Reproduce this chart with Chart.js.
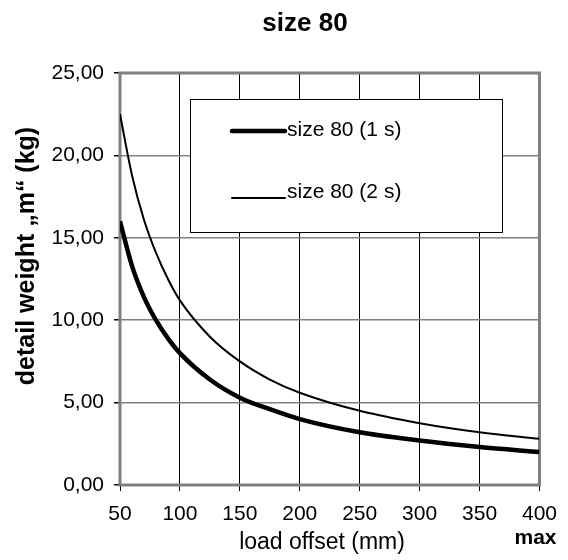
<!DOCTYPE html>
<html lang="en">
<head>
	<meta charset="UTF-8">
	<title>size 80</title>
	<script src="https://cdn.jsdelivr.net/npm/chart.js"></script>
	<style>
		html, body { margin: 0; padding: 0; background: #fff; }
		#wrap { width: 568px; height: 560px; }
	</style>
</head>
<body>
	<div id="wrap"><canvas id="weightChart" width="568" height="560"></canvas></div>
	<script>
	// values
	const offsets = [50, 60, 70, 80, 90, 100, 125, 150, 175, 200, 250, 300, 350, 400];
	const weight1s = [16.0, 13.3, 11.4, 10.0, 8.9, 8.0, 6.4, 5.3, 4.6, 4.0, 3.2, 2.7, 2.3, 2.0];
	const weight2s = [22.5, 18.8, 16.1, 14.1, 12.5, 11.2, 9.0, 7.5, 6.4, 5.6, 4.5, 3.75, 3.2, 2.8];
	const seriesNames = ['size 80 (1 s)', 'size 80 (2 s)'];
	const xTicks = [50, 100, 150, 200, 250, 300, 350, 400];
	const yTicks = [0, 5, 10, 15, 20, 25];

	const FONT = '"Liberation Sans", Arial, sans-serif';

	function toPoints(xs, ys) {
		return xs.map((x, i) => ({ x: x, y: ys[i] }));
	}

	// frame, legend box and the texts Excel put around the plot
	const decorations = {
		id: 'decorations',
		beforeDatasetsDraw(chart) {
			const { ctx, chartArea: a } = chart;
			ctx.save();
			ctx.strokeStyle = '#808080';
			ctx.lineWidth = 3;
			ctx.strokeRect(a.left, a.top, a.right - a.left, a.bottom - a.top);
			ctx.restore();
		},
		afterDatasetsDraw(chart) {
			const { ctx, chartArea: a } = chart;
			const ds = chart.data.datasets;
			ctx.save();
			// legend
			const bx = a.left + 70, by = a.top + 26, bw = 312, bh = 133;
			ctx.fillStyle = '#fff';
			ctx.fillRect(bx, by, bw, bh);
			ctx.strokeStyle = '#000';
			ctx.lineWidth = 1;
			ctx.strokeRect(bx + 0.5, by + 0.5, bw, bh);
			ctx.font = '21px ' + FONT;
			ctx.textBaseline = 'middle';
			ctx.fillStyle = '#000';
			const rows = [{ y: by + 32, ty: by + 31 }, { y: by + 99, ty: by + 93 }];
			rows.forEach((r, i) => {
				ctx.beginPath();
				ctx.lineWidth = ds[i].borderWidth;
				ctx.lineCap = 'round';
				ctx.moveTo(bx + 42, r.y);
				ctx.lineTo(bx + 95, r.y);
				ctx.stroke();
				ctx.fillText(ds[i].label, bx + 97, r.ty);
			});
			// titles
			ctx.textAlign = 'center';
			ctx.font = 'bold 26px ' + FONT;
			ctx.fillText('size 80', 305, 24);
			ctx.font = '23px ' + FONT;
			ctx.fillText('load offset (mm)', 322, 543);
			ctx.font = 'bold 21px ' + FONT;
			ctx.fillText('max', chart.scales.x.getPixelForValue(400) - 4, 538);
			ctx.translate(27, 256);
			ctx.rotate(-Math.PI / 2);
			ctx.font = 'bold 25px ' + FONT;
			ctx.fillText('detail weight \u201Em\u201C (kg)', 0, 0);
			ctx.restore();
		}
	};

	new Chart(document.getElementById('weightChart'), {
		type: 'line',
		data: {
			datasets: [{
				label: seriesNames[0],
				data: toPoints(offsets, weight1s),
				borderColor: '#000',
				borderWidth: 4.5,
				pointRadius: 0,
				cubicInterpolationMode: 'monotone',
				fill: false
			}, {
				label: seriesNames[1],
				data: toPoints(offsets, weight2s),
				borderColor: '#000',
				borderWidth: 2,
				pointRadius: 0,
				cubicInterpolationMode: 'monotone',
				fill: false
			}]
		},
		options: {
			responsive: false,
			animation: false,
			devicePixelRatio: 1,
			layout: { padding: { left: 0, right: 25, top: 73, bottom: 0 } },
			plugins: {
				legend: { display: false },
				title: { display: false },
				tooltip: { enabled: false }
			},
			scales: {
				x: {
					type: 'linear',
					min: 50,
					max: 400,
					afterBuildTicks: s => { s.ticks = xTicks.map(v => ({ value: v })); },
					afterFit: s => { s.height = 75; },
					border: { display: false },
					grid: { color: '#000', lineWidth: 1, tickColor: '#000', tickLength: 6 },
					ticks: { color: '#000', padding: 11, maxRotation: 0, font: { family: FONT, size: 21 } }
				},
				y: {
					min: 0,
					max: 25,
					afterBuildTicks: s => { s.ticks = yTicks.map(v => ({ value: v })); },
					afterFit: s => { s.width = 120; },
					border: { display: false },
					grid: { color: '#808080', lineWidth: 1.5, tickColor: '#000', tickLength: 6 },
					ticks: {
						color: '#000',
						padding: 10,
						font: { family: FONT, size: 21 },
						callback: v => v.toFixed(2).replace('.', ',')
					}
				}
			}
		},
		plugins: [decorations]
	});
	</script>
</body>
</html>
